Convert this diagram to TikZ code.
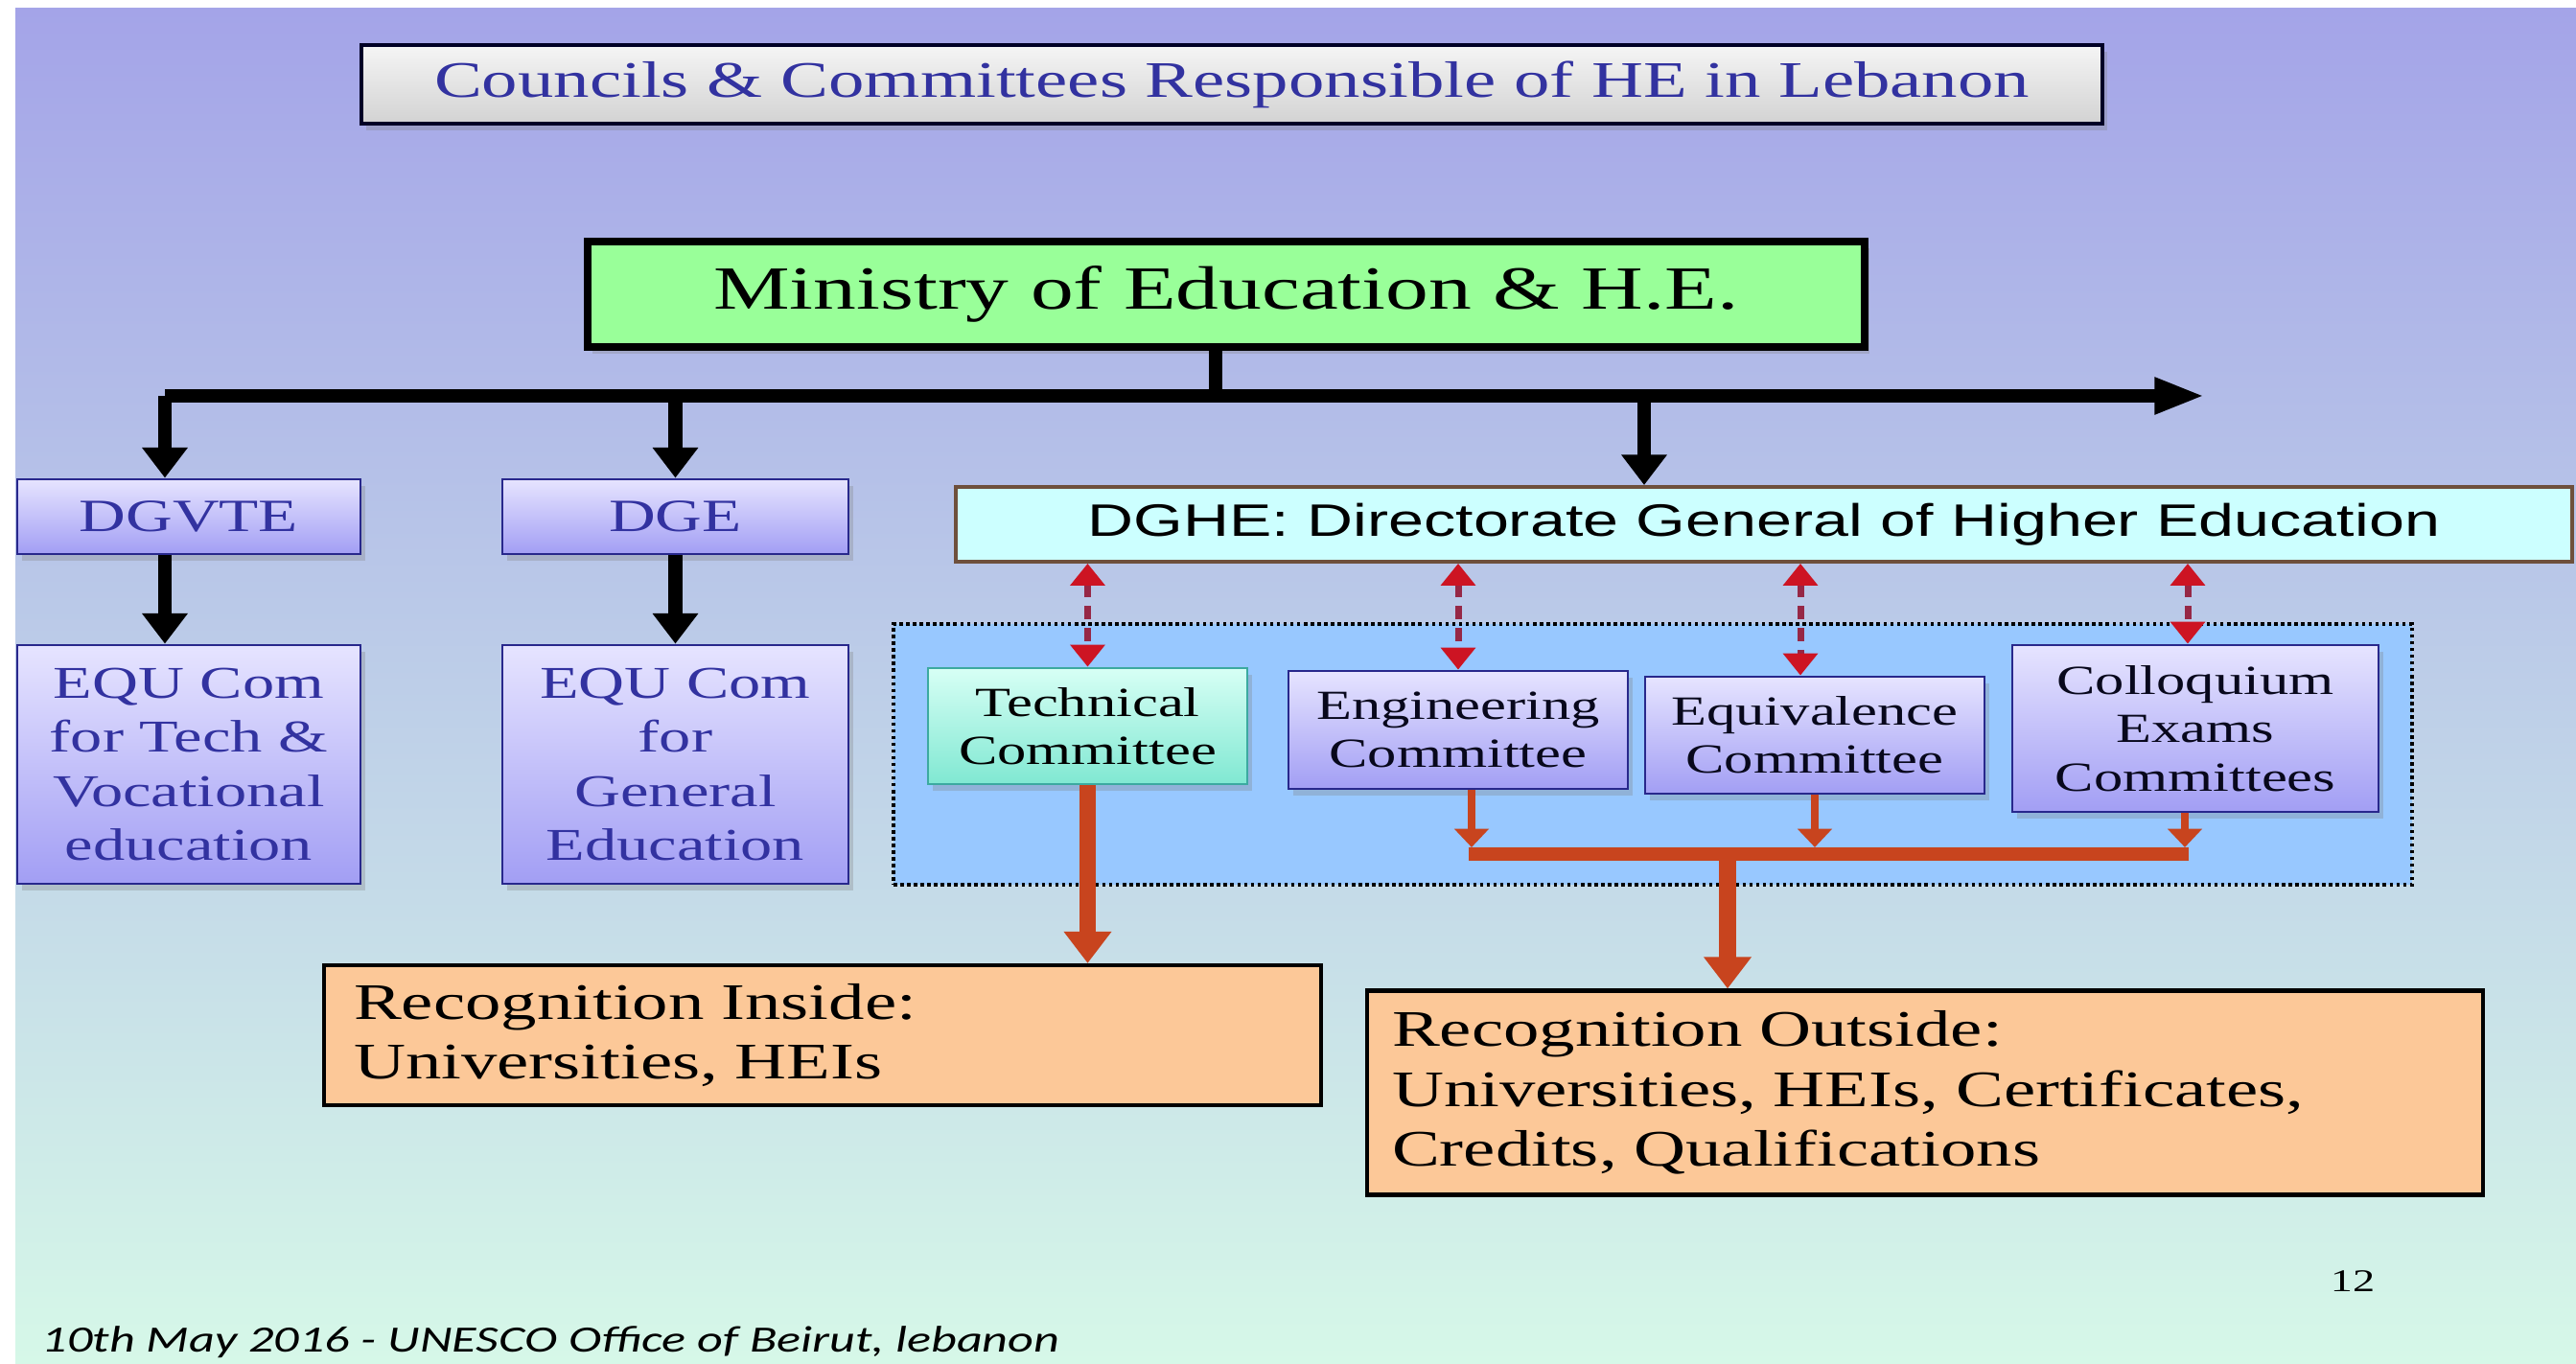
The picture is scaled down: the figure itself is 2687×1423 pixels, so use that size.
\documentclass[tikz,border=0pt]{standalone}
\usepackage{fontspec}
\setmainfont{Liberation Serif}[FakeStretch=1.4]
\newfontfamily\dghefont{Liberation Sans}[FakeStretch=1.4]
\newfontfamily\footfont{Carlito}[FakeStretch=1.35]
\usetikzlibrary{arrows.meta}
\usetikzlibrary{shadows}

\definecolor{bgtop}{RGB}{164,164,232}
\definecolor{bgmid}{RGB}{176,222,222}
\definecolor{bgbot}{RGB}{214,248,232}
\definecolor{lavtop}{RGB}{230,228,255}
\definecolor{lavbot}{RGB}{162,158,244}
\definecolor{navy}{RGB}{40,40,140}
\definecolor{bluetext}{RGB}{50,50,160}
\definecolor{mingreen}{RGB}{153,255,153}
\definecolor{dghefill}{RGB}{204,255,255}
\definecolor{dgheline}{RGB}{110,80,60}
\definecolor{panel}{RGB}{152,200,255}
\definecolor{techtop}{RGB}{215,255,245}
\definecolor{techbot}{RGB}{128,232,210}
\definecolor{techline}{RGB}{60,170,160}
\definecolor{peach}{RGB}{252,200,152}
\definecolor{rust}{RGB}{200,68,30}
\definecolor{linkred}{RGB}{205,20,35}
\definecolor{linkdash}{RGB}{150,40,70}

\begin{document}
\begin{tikzpicture}[x=0.1mm, y=-0.1mm]

\tikzstyle{shadowed}=[drop shadow={shadow xshift=0.5mm, shadow yshift=-0.7mm, opacity=0.3}]
\tikzstyle{titlebox}=[rectangle, draw=black!85!blue, line width=1.4pt, top color=gray!8, bottom color=gray!35, minimum width=181.6mm, minimum height=8.2mm, inner sep=0pt, text=bluetext, font=\fontsize{15.2}{18}\selectfont, shadowed]
\tikzstyle{ministry}=[rectangle, draw=black, line width=2.3pt, fill=mingreen, minimum width=133.2mm, minimum height=11mm, inner sep=0pt, font=\fontsize{18.2}{21}\selectfont, shadowed]
\tikzstyle{dirbox}=[rectangle, draw=navy, line width=0.8pt, top color=lavtop, bottom color=lavbot, inner sep=0pt, text=bluetext, minimum height=7.8mm, font=\fontsize{13.7}{16}\selectfont, shadowed]
\tikzstyle{equbox}=[dirbox, align=center, minimum height=24.9mm, font=\fontsize{13.5}{16}\selectfont]
\tikzstyle{dghe}=[rectangle, draw=dgheline, line width=1.1pt, fill=dghefill, minimum width=168.6mm, minimum height=7.8mm, inner sep=0pt, font=\dghefont\fontsize{13.5}{16}\selectfont]
\tikzstyle{panel}=[rectangle, draw=black, densely dotted, line width=1pt, fill=panel, minimum width=158.4mm, minimum height=27.2mm, inner sep=0pt]
\tikzstyle{comm}=[rectangle, draw=navy, line width=0.8pt, top color=lavtop, bottom color=lavbot, inner sep=0pt, align=center, text=black!80!navy, font=\fontsize{12.3}{14.3}\selectfont, shadowed]
\tikzstyle{techcomm}=[comm, draw=techline, top color=techtop, bottom color=techbot, text=black]
\tikzstyle{recbox}=[rectangle, draw=black, line width=1.2pt, fill=peach, align=left, inner ysep=0pt, font=\fontsize{15.2}{17.8}\selectfont]

\tikzstyle{trunk}=[line width=4pt, black]
\tikzstyle{branch}=[line width=4pt, black, -{Triangle[length=9pt, width=13pt]}]
\tikzstyle{link}=[line width=2pt, linkdash, dash pattern=on 4pt off 2.5pt, {Triangle[length=6.5pt, width=10pt, color=linkred]}-{Triangle[length=6.5pt, width=10pt, color=linkred]}]
\tikzstyle{feed}=[line width=2.5pt, rust, -{Triangle[length=5.5pt, width=10pt]}, shorten >=2pt]
\tikzstyle{bar}=[line width=4pt, rust]
\tikzstyle{drop}=[line width=5pt, rust, -{Triangle[length=9.4pt, width=13.6pt]}]

\useasboundingbox (0,0) rectangle (2687,1423);
\fill[white] (0,0) rectangle (2687,1423);
\shade[top color=bgtop, middle color=bgmid, bottom color=bgbot] (16,9) rectangle (2687,1423);


\node[titlebox] (title) at (1285,88) {Councils \& Committees Responsible of HE in Lebanon};
\node[ministry] (ministry) at (1279,307) {Ministry of Education \& H.E.};


\node[dirbox, minimum width=35.8mm] (dgvte) at (197,539) {DGVTE};
\node[dirbox, minimum width=36.1mm] (dge) at (704.5,539) {DGE};
\node[equbox, minimum width=35.8mm] (equtech) at (197,797.5) {EQU Com\\for Tech \&\\Vocational\\education};
\node[equbox, minimum width=36.1mm] (equgen) at (704.5,797.5) {EQU Com\\for\\General\\Education};


\node[dghe] (dghe) at (1840,547) {DGHE: Directorate General of Higher Education};
\node[panel] (panel) at (1724,787) {};

\node[techcomm, minimum width=33.3mm, minimum height=12.1mm] (tech) at (1134.5,757.5) {Technical\\Committee};
\node[comm, minimum width=35.4mm, minimum height=12.3mm] (engi) at (1521,761.5) {Engineering\\Committee};
\node[comm, minimum width=35.4mm, minimum height=12.2mm] (equi) at (1893,767) {Equivalence\\Committee};
\node[comm, minimum width=38.2mm, minimum height=17.4mm] (collo) at (2290,760) {Colloquium\\Exams\\Committees};


\node[recbox, text width=97.8mm, inner xsep=3.1mm, minimum height=14.6mm] (recin) at (858,1080) {Recognition Inside:\\Universities, HEIs};
\node[recbox, text width=111.2mm, inner xsep=2.6mm, minimum height=21.3mm] (recout) at (2008,1140) {Recognition Outside:\\Universities, HEIs, Certificates,\\Credits, Qualifications};

\node[anchor=base, font=\fontsize{9.4}{11}\selectfont] (pagenum) at (2454,1348) {12};
\node[anchor=base west, inner sep=0pt, font=\footfont\itshape\fontsize{11}{13}\selectfont] (footer) at (43,1411) {10th May 2016 - UNESCO Office of Beirut, lebanon};


\coordinate (split) at (1268,413);
\coordinate (west) at (172,413);
\coordinate (east) at (2300,413);
\coordinate (hedrop) at (1715,413);

\draw[trunk] (ministry.south -| split) -- (split);
\draw[trunk, -{Triangle[length=15pt, width=10pt]}] (west) -- (east);

\path (west) [branch] edge (dgvte.north -| west);
\path (dge.north |- split) [branch] edge (dge.north);
\path (hedrop) [branch] edge (dghe.north -| hedrop);

\path (dgvte.south -| west) [branch] edge (equtech.north -| west);
\path (dge.south) [branch] edge (equgen.north);


\path (dghe.south -| tech.north) [link] edge (tech.north);
\path (dghe.south -| engi.north) [link] edge (engi.north);
\path ([xshift=-1.5mm]dghe.south -| equi.north) [link] edge ([xshift=-1.5mm]equi.north);
\path ([xshift=-0.8mm]dghe.south -| collo.north) [link] edge ([xshift=-0.8mm]collo.north);


\coordinate (barL) at (1535,891);
\coordinate (barR) at (2279,891);
\coordinate (barM) at (1802,891);

\draw[bar] ([xshift=-1pt]barL) -- ([xshift=1pt]barR);
\path (engi.south -| barL) [feed] edge (barL);
\path (equi.south) [feed] edge (equi.south |- barL);
\path (collo.south -| barR) [feed] edge (barR);

\path (barM) [drop] edge (recout.north -| barM);
\path (tech.south) [drop] edge (recin.north -| tech.south);

\end{tikzpicture}
\end{document}
